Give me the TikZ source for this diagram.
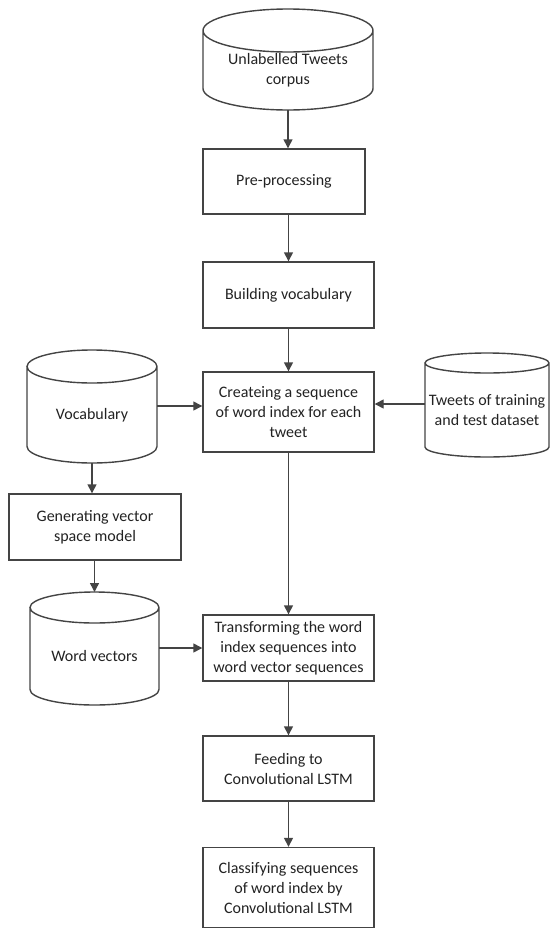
\documentclass[tikz,border=0pt]{standalone}
\usepackage{fontspec}
\setmainfont{Carlito}
\usetikzlibrary{arrows.meta}
\definecolor{linegray}{HTML}{444444}
\definecolor{textgray}{HTML}{222222}
% outline of a data store round a named node: name, x radius, y radius
\newcommand{\storeoutline}[3]{%
    \draw [draw=linegray, line width=1.4pt] (#1.north west) -- ([yshift=#3]#1.south west)
        arc [start angle=180, end angle=360, x radius=#2, y radius=#3] -- (#1.north east)
        arc [start angle=0, end angle=360, x radius=#2, y radius=#3];}

\begin{document}
\begin{tikzpicture}[font=\fontsize{16}{20}\selectfont, text=textgray]
    \tikzstyle{arrow} = [line width=1.4pt, draw=linegray, -{Triangle[length=9pt, width=9pt]}]
    \tikzstyle{process} = [rectangle, minimum width=171pt, minimum height=66pt, align=center, draw=linegray, line width=1.4pt, inner sep=2pt]
    \tikzstyle{store} = [rectangle, align=center, inner sep=1pt, outer sep=0pt]
    \useasboundingbox (0pt,0pt) rectangle (551pt,-929pt);
    \node (corpus) [store, minimum width=170pt, minimum height=79.5pt] at (288pt,-70.25pt) {Unlabelled Tweets\\corpus};
    \node (pre) [process, minimum width=162pt, minimum height=65pt] at (284pt,-181.5pt) {Pre-processing};
    \node (build) [process] at (288.5pt,-295pt) {Building vocabulary};
    \node (create) [process, minimum height=80pt] at (288.5pt,-412pt) {Createing a sequence\\of word index for each\\tweet};
    \node (vocab) [store, minimum width=130pt, minimum height=96.5pt] at (92pt,-414.75pt) {Vocabulary};
    \node (tweets) [store, minimum width=124pt, minimum height=94pt] at (487pt,-410pt) {Tweets of training\\and test dataset};
    \node (gen) [process, minimum width=172pt] at (95pt,-527pt) {Generating vector\\space model};
    \node (wordvec) [store, minimum width=129pt, minimum height=97.5pt] at (94.5pt,-656.25pt) {Word vectors};
    \node (trans) [process] at (288.5pt,-648pt) {Transforming the word\\index sequences into\\word vector sequences};
    \node (feed) [process, minimum height=65pt] at (288.5pt,-768.5pt) {Feeding to\\Convolutional LSTM};
    \node (classify) [process, minimum height=80pt] at (288.5pt,-887.5pt) {Classifying sequences\\of word index by\\Convolutional LSTM};
    \storeoutline{corpus}{85pt}{21.5pt}
    \storeoutline{vocab}{65pt}{16.5pt}
    \storeoutline{tweets}{62pt}{10pt}
    \storeoutline{wordvec}{64.5pt}{15.5pt}
    \draw [arrow] (corpus.south) -- (corpus.south |- pre.north);
    \draw [arrow] (pre.south -| build.south) -- (build.north);
    \draw [arrow] (build) -- (create);
    \draw [arrow] ([yshift=8.75pt]vocab.east) -- ([yshift=8.75pt]vocab.east -| create.west);
    \draw [arrow] ([yshift=6pt]tweets.west) -- ([yshift=6pt]tweets.west -| create.east);
    \draw [arrow] (create) -- (trans);
    \draw [arrow] (vocab.south) -- (vocab.south |- gen.north);
    \draw [arrow] (gen.south -| wordvec.south) -- ([yshift=15.5pt]wordvec.north);
    \draw [arrow] ([yshift=8.25pt]wordvec.east) -- ([yshift=8.25pt]wordvec.east -| trans.west);
    \draw [arrow] (trans) -- (feed);
    \draw [arrow] (feed) -- (classify);
\end{tikzpicture}
\end{document}
